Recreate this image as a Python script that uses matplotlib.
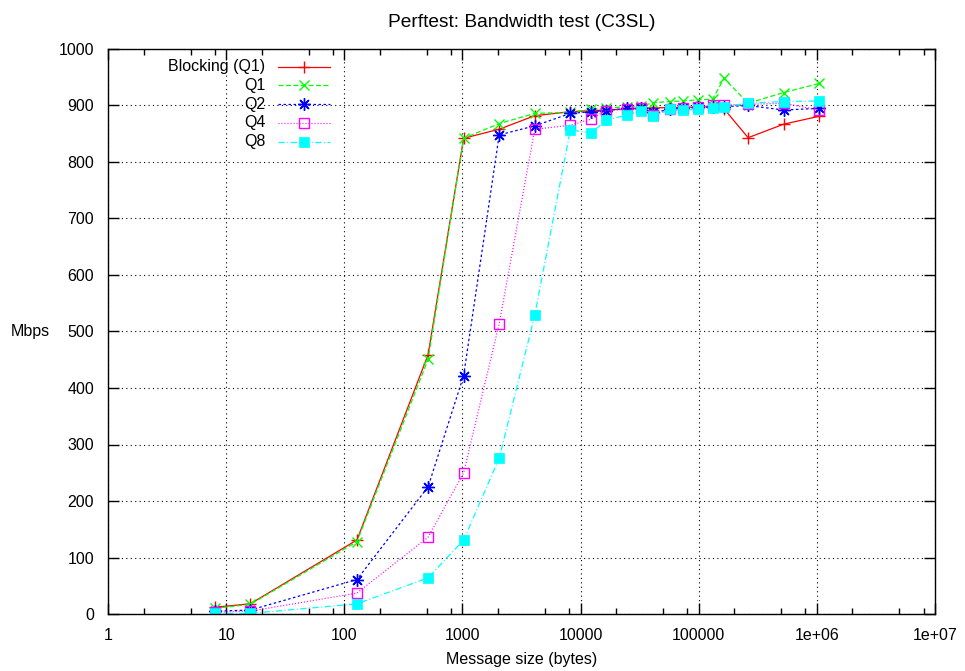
# Perftest bandwidth chart (C3SL), gnuplot look with matplotlib
import matplotlib
matplotlib.use("Agg")
import matplotlib.pyplot as plt
from matplotlib.ticker import LogLocator, FixedLocator, NullFormatter
from matplotlib.lines import Line2D

plt.rcParams['font.family'] = ['Liberation Sans', 'DejaVu Sans']
plt.rcParams['font.size'] = 11.5

# message sizes (bytes)
sizes = [8, 16, 128, 512, 1024, 2048, 4096, 8192, 12288, 16384, 24576, 32768,
         40960, 57344, 73728, 98304, 131072, 163840, 262144, 524288, 1048576]

blocking_q1 = [12, 18, 131, 459, 842, 858, 882, 889, 891, 892, 894, 895,
               896, 896, 897, 897, 898, 894, 843, 867, 881]
q1 = [10, 17, 128, 451, 842, 868, 886, 888, 893, 895, 898, 899,
      905, 907, 908, 910, 911, 948, 904, 923, 939]
q2 = [5, 7, 61, 225, 422, 848, 864, 886, 889, 891, 895, 895,
      888, 893, 895, 897, 897, 898, 900, 892, 895]
q4 = [3, 5, 37, 136, 250, 514, 858, 865, 876, 891, 893, 895,
      883, 893, 895, 898, 900, 901, 902, 904, 892]
q8 = [1, 1, 18, 64, 131, 276, 529, 857, 851, 874, 883, 891,
      881, 893, 892, 893, 896, 898, 904, 907, 908]

labels = ["Blocking (Q1)", "Q1", "Q2", "Q4", "Q8"]
xtick_labels = ["1", "10", "100", "1000", "10000", "100000", "1e+06", "1e+07"]

# line styles like gnuplot defaults
styles = [
    dict(color='#ff0000', linestyle='-', marker='+', markersize=9, mew=1.0),
    dict(color='#00ff00', dashes=(4, 2), marker='x', markersize=7, mew=1.0),
    dict(color='#0000ff', dashes=(2, 2), marker=(8, 2, 0), markersize=9, mew=1.0),
    dict(color='#ff00ff', dashes=(0.8, 1.6), marker='s', markersize=6.5,
         mfc='none', mew=1.0),
    dict(color='#00ffff', dashes=(5, 2, 0.8, 2), marker='s', markersize=6.5,
         mec='#00ffff', mfc='#00ffff', mew=0.5),
]

fig = plt.figure(figsize=(9.65, 6.71), dpi=100)
ax = fig.add_axes([108 / 965, 57 / 671, 827 / 965, 565 / 671])

series = [blocking_q1, q1, q2, q4, q8]
for vals, st in zip(series, styles):
    ax.plot(sizes, vals, lw=0.9, **st)

ax.set_xscale('log')
ax.set_xlim(1, 1e7)
ax.set_ylim(0, 1000)

ax.xaxis.set_major_locator(FixedLocator([10 ** i for i in range(8)]))
ax.set_xticklabels(xtick_labels)
ax.xaxis.set_minor_locator(LogLocator(base=10, subs=(2, 5, 8), numticks=20))
ax.xaxis.set_minor_formatter(NullFormatter())
ax.set_yticks(range(0, 1001, 100))

ax.tick_params(which='both', direction='in', top=True, right=True, width=1)
ax.tick_params(which='major', length=8, pad=10)
ax.tick_params(which='minor', length=4)
for s in ax.spines.values():
    s.set_linewidth(1)

ax.grid(True, which='major', color='black', linestyle=(0, (1, 3)), linewidth=0.8)

ax.set_title("Perftest: Bandwidth test (C3SL)", pad=16)
ax.set_xlabel("Message size (bytes)", va='center')
ax.xaxis.set_label_coords(0.5, -0.081)
ax.set_ylabel("Mbps", rotation=0, va='center', ha='center')
ax.yaxis.set_label_coords(-0.094, 0.5)

# legend drawn by hand so the text is right aligned, handle on the right
row_h = 18.75 / 565
for i, (lab, st) in enumerate(zip(labels, styles)):
    y = 0.9687 - i * row_h
    ax.text(0.19, y, lab, transform=ax.transAxes, ha='right', va='center')
    line_st = {k: v for k, v in st.items() if k not in ('marker', 'markersize', 'mfc', 'mec', 'mew')}
    ax.add_line(Line2D([0.2056, 0.268], [y, y], transform=ax.transAxes, lw=0.9, **line_st))
    ax.add_line(Line2D([0.237], [y], transform=ax.transAxes, linestyle='none',
                       color=st['color'], marker=st['marker'], markersize=st['markersize'],
                       mfc=st.get('mfc', st['color']), mec=st.get('mec', st['color']),
                       mew=st.get('mew', 1.0)))

fig.savefig("out.png", dpi=100)
